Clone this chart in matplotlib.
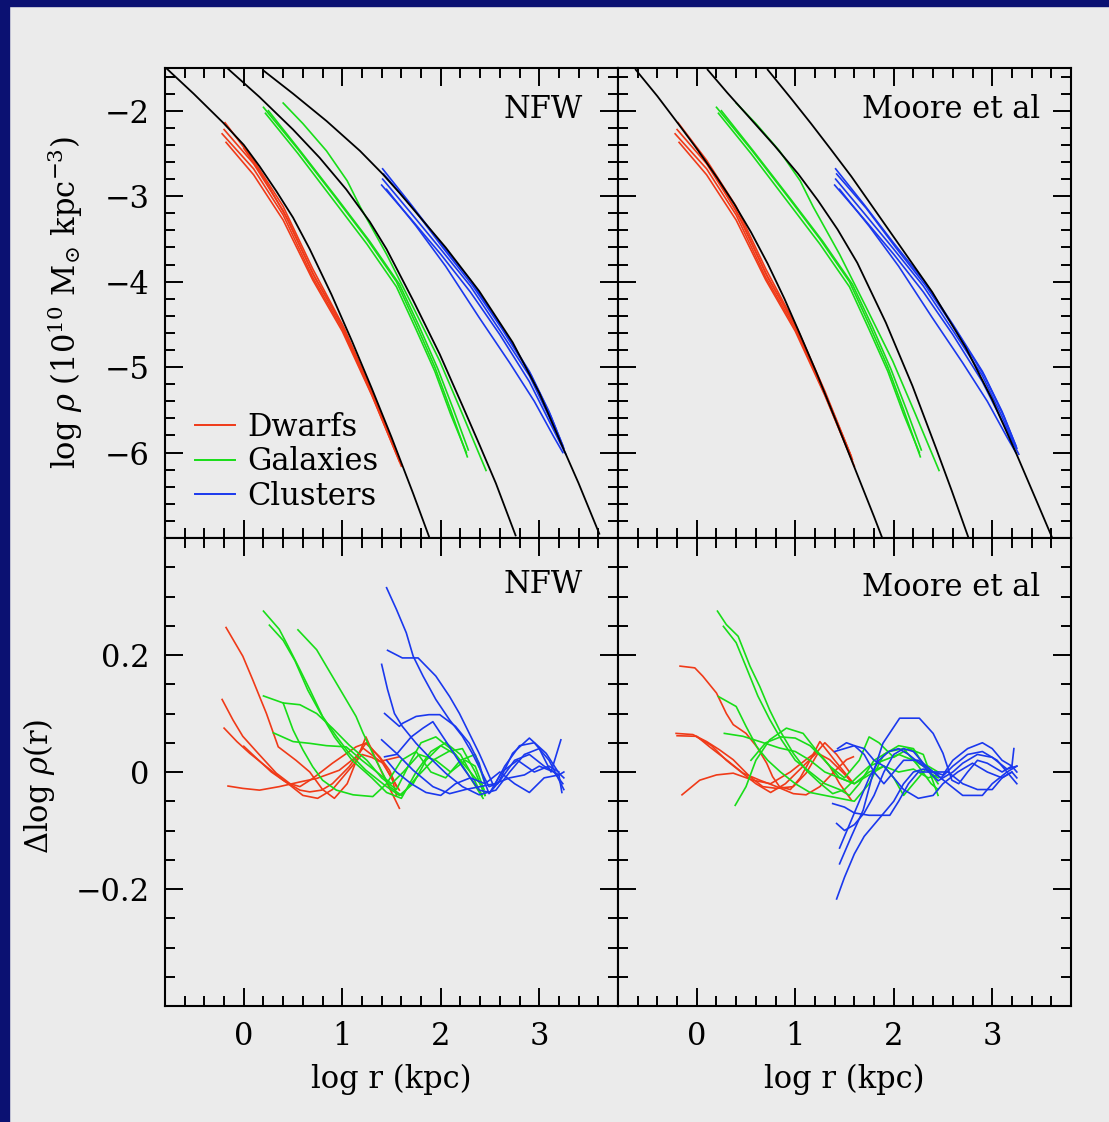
import matplotlib
matplotlib.use('Agg')
import matplotlib.pyplot as plt
from matplotlib.patches import Rectangle
from matplotlib.lines import Line2D
from matplotlib.ticker import MultipleLocator, FixedLocator, FuncFormatter

plt.rcParams['font.family'] = ['DejaVu Serif']
plt.rcParams['mathtext.fontset'] = 'dejavuserif'

BG = '#ebebeb'
NAVY = '#0b1172'
RED = '#f03a18'
GREEN = '#18dd18'
BLUE = '#1a38ee'

# ---- fitted profiles (black), top panels ----
nfw_dwarf_x = [-0.78, -0.51, -0.21, 0.0, 0.16, 0.33, 0.50, 0.67, 0.89, 1.10, 1.30, 1.50, 1.60, 1.72, 1.88]
nfw_dwarf_y = [-1.51, -1.80, -2.14, -2.40, -2.65, -2.94, -3.25, -3.62, -4.15, -4.70, -5.25, -5.82, -6.12, -6.48, -6.98]
nfw_gal_x = [-0.16, 0.16, 0.50, 0.77, 1.04, 1.28, 1.45, 1.72, 1.99, 2.22, 2.39, 2.56, 2.76]
nfw_gal_y = [-1.51, -1.84, -2.22, -2.55, -2.92, -3.30, -3.62, -4.22, -4.85, -5.45, -5.90, -6.36, -6.97]
nfw_clu_x = [0.20, 0.50, 0.84, 1.18, 1.41, 1.58, 2.05, 2.39, 2.73, 3.00, 3.24, 3.40, 3.61]
nfw_clu_y = [-1.53, -1.80, -2.12, -2.47, -2.74, -2.96, -3.60, -4.11, -4.71, -5.30, -5.94, -6.36, -6.95]

moore_dwarf_x = [-0.62, -0.40, -0.19, 0.01, 0.21, 0.38, 0.55, 0.72, 0.89, 1.05, 1.21, 1.41, 1.61, 1.80, 1.89]
moore_dwarf_y = [-1.52, -1.83, -2.15, -2.46, -2.79, -3.09, -3.42, -3.79, -4.20, -4.62, -5.05, -5.62, -6.20, -6.75, -7.02]
moore_gal_x = [0.11, 0.31, 0.55, 0.79, 1.03, 1.23, 1.43, 1.63, 1.92, 2.19, 2.43, 2.59, 2.76]
moore_gal_y = [-1.52, -1.79, -2.10, -2.41, -2.74, -3.05, -3.39, -3.78, -4.48, -5.22, -5.95, -6.45, -7.00]
moore_clu_x = [0.72, 0.96, 1.16, 1.36, 1.57, 2.05, 2.39, 2.73, 3.00, 3.24, 3.47, 3.61]
moore_clu_y = [-1.52, -1.86, -2.15, -2.45, -2.77, -3.56, -4.12, -4.77, -5.38, -6.00, -6.62, -7.00]

# ---- simulated profiles (same in both top panels) ----
dwarf_prof = [
    [(-0.19, -2.14), (0.10, -2.58), (0.40, -3.12), (0.70, -3.85), (1.00, -4.50), (1.30, -5.28), (1.56, -6.02)],
    [(-0.22, -2.27), (0.10, -2.68), (0.40, -3.22), (0.70, -3.95), (1.00, -4.55), (1.30, -5.32), (1.60, -6.16)],
    [(-0.18, -2.37), (0.10, -2.75), (0.40, -3.28), (0.70, -3.98), (1.00, -4.58), (1.30, -5.33), (1.58, -6.10)],
    [(-0.20, -2.22), (0.10, -2.62), (0.40, -3.17), (0.70, -3.90), (1.00, -4.52), (1.30, -5.30), (1.58, -6.08)],
    [(0.00, -2.44), (0.20, -2.78), (0.45, -3.28), (0.72, -3.95), (1.02, -4.55), (1.30, -5.30), (1.57, -6.05)],
]
gal_prof = [
    [(0.40, -1.91), (0.60, -2.15), (0.84, -2.47), (1.05, -2.82), (1.18, -3.12), (1.45, -3.68), (1.72, -4.30), (1.99, -4.93), (2.22, -5.55), (2.46, -6.21)],
    [(0.20, -1.96), (0.55, -2.45), (0.92, -3.00), (1.25, -3.50), (1.55, -4.00), (1.75, -4.50), (1.94, -5.00), (2.10, -5.50), (2.27, -6.05)],
    [(0.22, -2.03), (0.55, -2.50), (0.92, -3.06), (1.25, -3.56), (1.55, -4.06), (1.75, -4.56), (1.94, -5.05), (2.10, -5.55), (2.26, -6.00)],
    [(0.25, -2.00), (0.58, -2.48), (0.95, -3.03), (1.28, -3.53), (1.58, -4.03), (1.78, -4.52), (1.97, -5.02), (2.13, -5.50), (2.28, -5.97)],
]
clu_prof = [
    [(1.41, -2.68), (1.70, -3.10), (2.00, -3.55), (2.30, -3.98), (2.60, -4.50), (2.90, -5.05), (3.10, -5.52), (3.25, -5.95)],
    [(1.41, -2.80), (1.70, -3.20), (2.00, -3.62), (2.30, -4.05), (2.60, -4.57), (2.90, -5.10), (3.10, -5.58), (3.22, -5.90)],
    [(1.40, -2.87), (1.70, -3.27), (2.00, -3.68), (2.30, -4.12), (2.60, -4.62), (2.90, -5.17), (3.10, -5.63), (3.27, -6.02)],
    [(1.45, -2.92), (1.75, -3.35), (2.05, -3.82), (2.39, -4.42), (2.70, -4.95), (2.95, -5.40), (3.15, -5.82), (3.24, -6.00)],
    [(1.42, -2.74), (1.72, -3.14), (2.02, -3.60), (2.32, -4.04), (2.62, -4.55), (2.92, -5.10), (3.12, -5.58), (3.24, -5.92)],
]

# ---- residuals, NFW ----
nfw_red = [
    [(-0.18, 0.247), (-0.01, 0.198), (0.09, 0.158), (0.23, 0.10), (0.35, 0.043), (0.53, 0.02), (0.67, 0.0), (0.80, -0.03), (0.92, -0.045), (1.05, -0.02), (1.24, 0.06), (1.40, 0.0), (1.58, -0.062)],
    [(-0.22, 0.124), (-0.11, 0.089), (-0.01, 0.061), (0.145, 0.032), (0.33, -0.002), (0.47, -0.02), (0.57, -0.025), (0.70, -0.011), (0.90, 0.015), (1.14, 0.043), (1.25, 0.05), (1.41, 0.018), (1.51, -0.014), (1.55, -0.04)],
    [(-0.20, 0.075), (-0.07, 0.052), (0.06, 0.032), (0.23, 0.009), (0.40, -0.014), (0.57, -0.031), (0.67, -0.034), (0.79, -0.031), (0.90, -0.02), (1.07, 0.009), (1.21, 0.041), (1.41, 0.015), (1.58, -0.031)],
    [(-0.16, -0.024), (-0.01, -0.028), (0.16, -0.031), (0.36, -0.025), (0.57, -0.017), (0.74, -0.011), (0.97, 0.003), (1.14, 0.026), (1.24, 0.049), (1.38, 0.026), (1.48, 0.003), (1.55, -0.025)],
    [(0.0, 0.044), (0.12, 0.025), (0.28, 0.0), (0.45, -0.02), (0.60, -0.04), (0.75, -0.045), (0.90, -0.03), (1.05, 0.0), (1.20, 0.03), (1.30, 0.025), (1.38, 0.018), (1.58, 0.026)],
]
nfw_green = [
    [(0.20, 0.275), (0.36, 0.244), (0.45, 0.215), (0.57, 0.175), (0.67, 0.141), (0.80, 0.095), (0.94, 0.061), (1.07, 0.032), (1.24, 0.003), (1.45, -0.025), (1.58, -0.04), (1.72, -0.02), (1.85, 0.02), (2.0, 0.045), (2.15, 0.03), (2.3, -0.01), (2.43, -0.045)],
    [(0.26, 0.251), (0.40, 0.225), (0.52, 0.19), (0.65, 0.14), (0.78, 0.10), (0.92, 0.06), (1.10, 0.02), (1.30, -0.01), (1.45, -0.035), (1.60, -0.045), (1.75, 0.0), (1.90, 0.035), (2.05, 0.05), (2.2, 0.03), (2.3, 0.0), (2.42, -0.04)],
    [(0.55, 0.243), (0.74, 0.209), (0.94, 0.152), (1.14, 0.095), (1.21, 0.067), (1.34, 0.021), (1.48, -0.025), (1.60, -0.04), (1.75, -0.01), (1.92, 0.02), (2.08, 0.035), (2.22, 0.04), (2.35, 0.0), (2.45, -0.04)],
    [(0.20, 0.130), (0.40, 0.118), (0.57, 0.115), (0.74, 0.10), (0.90, 0.075), (1.07, 0.046), (1.25, 0.02), (1.40, -0.01), (1.55, -0.03), (1.70, 0.02), (1.80, 0.05), (1.95, 0.06), (2.10, 0.04), (2.25, 0.01), (2.40, -0.02), (2.45, -0.04)],
    [(0.30, 0.067), (0.50, 0.052), (0.67, 0.049), (0.84, 0.045), (1.04, 0.043), (1.20, 0.02), (1.35, 0.0), (1.50, -0.02), (1.62, 0.0), (1.78, 0.03), (1.95, 0.02), (2.1, 0.0), (2.25, 0.02), (2.35, 0.01), (2.44, -0.03)],
    [(0.40, 0.118), (0.50, 0.072), (0.60, 0.038), (0.70, 0.009), (0.80, -0.014), (0.94, -0.031), (1.11, -0.039), (1.31, -0.042), (1.45, -0.02), (1.60, 0.02), (1.75, 0.035), (1.90, 0.0), (2.05, -0.01), (2.20, 0.02), (2.35, 0.03), (2.45, -0.02)],
]
nfw_blue = [
    [(1.45, 0.315), (1.55, 0.278), (1.65, 0.238), (1.72, 0.198), (1.82, 0.164), (1.95, 0.124), (2.09, 0.089), (2.22, 0.061), (2.32, 0.032), (2.42, -0.002), (2.49, -0.025), (2.58, -0.02), (2.73, 0.032), (2.90, 0.058), (3.07, 0.032), (3.20, -0.002), (3.25, -0.01)],
    [(1.46, 0.208), (1.61, 0.195), (1.77, 0.195), (1.95, 0.164), (2.09, 0.129), (2.19, 0.10), (2.29, 0.066), (2.39, 0.032), (2.48, -0.002), (2.54, -0.025), (2.65, 0.01), (2.80, 0.045), (2.95, 0.05), (3.10, 0.02), (3.25, -0.03)],
    [(1.40, 0.184), (1.46, 0.141), (1.53, 0.10), (1.61, 0.078), (1.75, 0.049), (1.88, 0.026), (2.05, -0.002), (2.22, -0.025), (2.39, -0.039), (2.56, -0.031), (2.70, 0.0), (2.85, 0.03), (3.0, 0.04), (3.12, 0.0), (3.22, 0.055)],
    [(1.43, 0.10), (1.58, 0.078), (1.61, 0.083), (1.75, 0.095), (1.88, 0.098), (1.99, 0.098), (2.15, 0.078), (2.29, 0.049), (2.39, 0.015), (2.44, -0.014), (2.49, -0.037), (2.6, -0.015), (2.75, 0.02), (2.9, 0.03), (3.05, 0.01), (3.2, -0.005), (3.25, 0.0)],
    [(1.40, 0.055), (1.55, 0.032), (1.72, 0.003), (1.92, -0.025), (2.09, -0.037), (2.25, -0.03), (2.40, -0.025), (2.55, -0.02), (2.7, -0.01), (2.85, -0.005), (3.0, 0.01), (3.15, 0.0), (3.24, -0.02)],
    [(1.43, 0.026), (1.55, 0.03), (1.70, 0.06), (1.82, 0.075), (1.92, 0.086), (2.09, 0.043), (2.22, 0.009), (2.39, -0.031), (2.5, -0.035), (2.62, 0.0), (2.78, 0.02), (2.95, 0.0), (3.1, 0.01), (3.2, 0.0)],
    [(1.45, 0.02), (1.55, 0.0), (1.70, -0.02), (1.85, -0.035), (2.0, -0.04), (2.15, -0.02), (2.3, -0.01), (2.45, -0.02), (2.6, 0.0), (2.75, -0.02), (2.9, -0.035), (3.05, -0.01), (3.2, -0.005), (3.23, -0.035)],
]

# ---- residuals, Moore et al ----
moore_red = [
    [(-0.17, 0.181), (-0.02, 0.178), (0.06, 0.164), (0.20, 0.135), (0.30, 0.10), (0.37, 0.081), (0.50, 0.066), (0.61, 0.043), (0.71, 0.015), (0.77, -0.008), (0.84, -0.025), (0.95, -0.03), (1.05, -0.01), (1.15, 0.02), (1.25, 0.052), (1.40, 0.02), (1.59, -0.019)],
    [(-0.21, 0.066), (-0.04, 0.064), (0.10, 0.052), (0.23, 0.038), (0.37, 0.021), (0.54, -0.008), (0.67, -0.025), (0.81, -0.028), (0.98, -0.025), (1.11, -0.002), (1.23, 0.032), (1.35, 0.021), (1.49, -0.002), (1.57, -0.017)],
    [(-0.20, 0.062), (0.0, 0.061), (0.13, 0.043), (0.30, 0.021), (0.47, -0.002), (0.64, -0.014), (0.81, -0.025), (0.98, -0.037), (1.11, -0.039), (1.25, -0.025), (1.38, -0.002), (1.52, 0.021), (1.59, 0.026)],
    [(-0.15, -0.039), (0.03, -0.014), (0.20, -0.005), (0.37, -0.002), (0.57, -0.014), (0.75, -0.02), (0.95, 0.0), (1.10, 0.02), (1.22, 0.035), (1.35, 0.01), (1.45, -0.02), (1.57, -0.048)],
    [(0.0, 0.06), (0.15, 0.045), (0.30, 0.02), (0.45, 0.0), (0.60, -0.02), (0.75, -0.035), (0.90, -0.02), (1.05, 0.005), (1.20, 0.03), (1.30, 0.05), (1.42, 0.03), (1.55, 0.0)],
]
moore_green = [
    [(0.21, 0.275), (0.30, 0.252), (0.42, 0.232), (0.54, 0.181), (0.64, 0.146), (0.74, 0.106), (0.84, 0.072), (0.98, 0.032), (1.11, 0.003), (1.25, -0.019), (1.38, -0.037), (1.50, -0.03), (1.62, -0.01), (1.75, 0.01), (1.90, 0.02), (2.05, 0.03), (2.2, 0.02), (2.35, 0.005), (2.45, -0.02)],
    [(0.27, 0.249), (0.40, 0.221), (0.50, 0.18), (0.62, 0.13), (0.74, 0.09), (0.86, 0.055), (1.0, 0.02), (1.15, 0.0), (1.30, -0.02), (1.45, -0.03), (1.55, -0.04), (1.65, -0.02), (1.80, 0.02), (1.95, 0.035), (2.10, 0.04), (2.25, 0.01), (2.38, -0.02), (2.45, -0.03)],
    [(0.22, 0.129), (0.40, 0.112), (0.50, 0.078), (0.61, 0.043), (0.72, 0.02), (0.85, 0.0), (1.0, -0.02), (1.15, -0.035), (1.30, -0.04), (1.45, -0.045), (1.60, -0.05), (1.75, -0.02), (1.9, 0.03), (2.05, 0.045), (2.2, 0.04), (2.35, 0.0), (2.45, -0.01)],
    [(0.28, 0.066), (0.47, 0.061), (0.64, 0.052), (0.84, 0.041), (1.0, 0.035), (1.15, 0.02), (1.30, 0.0), (1.45, -0.01), (1.6, -0.02), (1.75, 0.0), (1.9, 0.01), (2.0, -0.01), (2.1, -0.04), (2.2, -0.02), (2.35, 0.01), (2.45, 0.0)],
    [(0.39, -0.057), (0.50, -0.025), (0.60, 0.02), (0.74, 0.055), (0.91, 0.075), (1.08, 0.066), (1.20, 0.04), (1.35, 0.01), (1.5, -0.01), (1.65, 0.02), (1.75, 0.06), (1.85, 0.05), (2.0, 0.025), (2.15, 0.04), (2.3, 0.03), (2.45, -0.04)],
    [(0.55, 0.02), (0.70, 0.05), (0.85, 0.06), (1.0, 0.058), (1.15, 0.045), (1.30, 0.02), (1.45, -0.01), (1.6, -0.02), (1.75, -0.005), (1.9, 0.01), (2.05, 0.0), (2.2, 0.005), (2.35, -0.01), (2.45, -0.005)],
]
moore_blue = [
    [(1.42, -0.217), (1.50, -0.18), (1.60, -0.14), (1.70, -0.11), (1.80, -0.09), (1.90, -0.07), (2.00, -0.05), (2.10, -0.02), (2.20, 0.0), (2.30, 0.005), (2.40, 0.0), (2.48, -0.01), (2.60, 0.01), (2.75, 0.03), (2.90, 0.035), (3.05, 0.02), (3.15, 0.0), (3.25, -0.02)],
    [(1.45, -0.157), (1.57, -0.11), (1.69, -0.065), (1.79, -0.002), (1.89, 0.049), (2.06, 0.092), (2.26, 0.092), (2.40, 0.066), (2.50, 0.032), (2.59, -0.014), (2.66, -0.02), (2.75, 0.0), (2.85, 0.02), (2.95, 0.015), (3.1, 0.0), (3.2, 0.01), (3.25, 0.0)],
    [(1.40, 0.035), (1.5, 0.04), (1.6, 0.045), (1.7, 0.04), (1.8, 0.02), (1.9, 0.01), (2.0, -0.01), (2.1, -0.03), (2.25, -0.045), (2.4, -0.04), (2.5, -0.02), (2.65, 0.0), (2.8, 0.015), (2.95, 0.0), (3.1, -0.01), (3.2, 0.0)],
    [(1.38, -0.054), (1.5, -0.06), (1.6, -0.07), (1.75, -0.074), (1.96, -0.074), (2.05, -0.05), (2.15, -0.02), (2.25, 0.0), (2.4, 0.0), (2.5, -0.005), (2.6, 0.02), (2.75, 0.04), (2.9, 0.05), (3.0, 0.04), (3.1, 0.02), (3.2, 0.01), (3.22, 0.04)],
    [(1.42, -0.088), (1.5, -0.10), (1.6, -0.09), (1.7, -0.07), (1.8, -0.04), (1.9, 0.0), (2.0, 0.03), (2.1, 0.04), (2.2, 0.035), (2.3, 0.015), (2.4, 0.0), (2.55, 0.0), (2.7, -0.02), (2.85, -0.03), (3.0, -0.03), (3.1, -0.01), (3.2, 0.0), (3.25, -0.01)],
    [(1.45, -0.13), (1.55, -0.09), (1.65, -0.05), (1.75, -0.01), (1.85, 0.02), (1.95, 0.035), (2.05, 0.04), (2.15, 0.03), (2.3, 0.01), (2.45, -0.015), (2.6, 0.0), (2.7, 0.015), (2.85, 0.03), (3.0, 0.025), (3.15, 0.005), (3.25, 0.01)],
    [(1.43, 0.04), (1.52, 0.05), (1.6, 0.045), (1.7, 0.03), (1.8, 0.0), (1.9, -0.02), (2.0, 0.0), (2.1, 0.02), (2.25, 0.02), (2.4, 0.0), (2.55, -0.02), (2.7, -0.04), (2.9, -0.04), (3.0, -0.02), (3.15, 0.0), (3.25, 0.01)],
]

W, H = 1109, 1122
FS = 22

fig = plt.figure(figsize=(W / 100, H / 100), dpi=100, facecolor=BG)
# navy frame on top and left edge
fig.patches.append(Rectangle((0, 1 - 6 / H), 1, 6 / H, transform=fig.transFigure, color=NAVY, zorder=10))
fig.patches.append(Rectangle((0, 0), 9 / W, 1, transform=fig.transFigure, color=NAVY, zorder=10))

ax_tl = fig.add_axes([165 / W, (H - 538) / H, 453 / W, 470 / H])
ax_tr = fig.add_axes([618 / W, (H - 538) / H, 453 / W, 470 / H])
ax_bl = fig.add_axes([165 / W, (H - 1006) / H, 453 / W, 468 / H])
ax_br = fig.add_axes([618 / W, (H - 1006) / H, 453 / W, 468 / H])


def style(ax, ylim, ymajor, yminor):
    ax.set_facecolor(BG)
    ax.set_xlim(-0.8, 3.8)
    ax.set_ylim(*ylim)
    ax.xaxis.set_major_locator(MultipleLocator(1))
    ax.xaxis.set_minor_locator(MultipleLocator(0.2))
    ax.yaxis.set_major_locator(FixedLocator(ymajor))
    ax.yaxis.set_minor_locator(MultipleLocator(yminor))
    ax.tick_params(which='both', direction='in', top=True, right=True,
                   width=1.4, labelsize=FS, pad=11, colors='black')
    ax.tick_params(which='major', length=13)
    ax.tick_params(which='minor', length=7)
    for s in ax.spines.values():
        s.set_linewidth(1.5)


def res_fmt(v, pos):
    if abs(v) < 1e-9:
        return '0'
    return ('%.1f' % v).replace('-', '\u2212')


for ax in (ax_tl, ax_tr):
    style(ax, (-7, -1.5), [-6, -5, -4, -3, -2], 0.2)
for ax in (ax_bl, ax_br):
    style(ax, (-0.4, 0.4), [-0.2, 0, 0.2], 0.05)
    ax.yaxis.set_major_formatter(FuncFormatter(res_fmt))

ax_tl.tick_params(labelbottom=False)
ax_tr.tick_params(labelbottom=False, labelleft=False)
ax_br.tick_params(labelleft=False)


def draw(ax, lines, color):
    for pts in lines:
        xs = [p[0] for p in pts]
        ys = [p[1] for p in pts]
        ax.plot(xs, ys, color=color, lw=1.2)


# top panels: simulated profiles + fits
for ax in (ax_tl, ax_tr):
    draw(ax, dwarf_prof, RED)
    draw(ax, gal_prof, GREEN)
    draw(ax, clu_prof, BLUE)

for x, y in ((nfw_dwarf_x, nfw_dwarf_y), (nfw_gal_x, nfw_gal_y), (nfw_clu_x, nfw_clu_y)):
    ax_tl.plot(x, y, color='black', lw=1.3)
for x, y in ((moore_dwarf_x, moore_dwarf_y), (moore_gal_x, moore_gal_y), (moore_clu_x, moore_clu_y)):
    ax_tr.plot(x, y, color='black', lw=1.3)

# bottom panels: residuals
draw(ax_bl, nfw_red, RED)
draw(ax_bl, nfw_green, GREEN)
draw(ax_bl, nfw_blue, BLUE)
draw(ax_br, moore_red, RED)
draw(ax_br, moore_green, GREEN)
draw(ax_br, moore_blue, BLUE)

# panel names
ax_tl.text(0.923, 0.911, 'NFW', transform=ax_tl.transAxes, ha='right', va='center', fontsize=FS)
ax_bl.text(0.923, 0.90, 'NFW', transform=ax_bl.transAxes, ha='right', va='center', fontsize=FS)
ax_tr.text(0.932, 0.911, 'Moore et al', transform=ax_tr.transAxes, ha='right', va='center', fontsize=FS)
ax_br.text(0.932, 0.895, 'Moore et al', transform=ax_br.transAxes, ha='right', va='center', fontsize=FS)

# legend
handles = [Line2D([], [], color=RED, lw=1.4), Line2D([], [], color=GREEN, lw=1.4),
           Line2D([], [], color=BLUE, lw=1.4)]
ax_tl.legend(handles, ['Dwarfs', 'Galaxies', 'Clusters'], loc='lower left',
             bbox_to_anchor=(0.066, 0.055), frameon=False, fontsize=FS,
             handlelength=1.3, handletextpad=0.4, labelspacing=0.12,
             borderpad=0, borderaxespad=0)

# axis labels
ax_tl.set_ylabel(r'log $\rho$ (10$^{10}$ M$_{\odot}$ kpc$^{-3}$)', fontsize=FS)
ax_tl.yaxis.set_label_coords(-0.177, 0.5)
ax_bl.set_ylabel(r'$\Delta$log $\rho$(r)', fontsize=FS)
ax_bl.yaxis.set_label_coords(-0.238, 0.47)
ax_bl.set_xlabel('log r (kpc)', fontsize=FS, labelpad=8)
ax_br.set_xlabel('log r (kpc)', fontsize=FS, labelpad=8)

fig.savefig('out.png', dpi=100, facecolor=BG)
